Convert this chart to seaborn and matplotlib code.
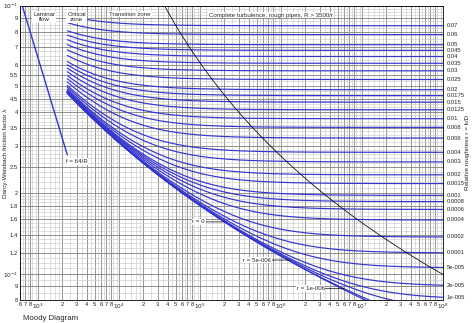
import numpy as np
import pandas as pd
import matplotlib
matplotlib.use("Agg")
import matplotlib.pyplot as plt
import matplotlib.transforms as mtransforms
import seaborn as sns

# Relative roughness values r = k/D of the plotted pipe curves
roughness = [0.07, 0.06, 0.05, 0.045, 0.04, 0.035, 0.03, 0.025, 0.02, 0.0175,
             0.015, 0.0125, 0.01, 0.008, 0.006, 0.004, 0.003, 0.002, 0.0015,
             0.001, 0.0008, 0.0006, 0.0004, 0.0002, 0.0001, 5e-5, 2e-5, 1e-5,
             5e-6, 1e-6, 0.0]
roughness_labels = ["0.07", "0.06", "0.05", "0.045", "0.04", "0.035", "0.03",
                    "0.025", "0.02", "0.0175", "0.015", "0.0125", "0.01",
                    "0.008", "0.006", "0.004", "0.003", "0.002", "0.0015",
                    "0.001", "0.0008", "0.0006", "0.0004", "0.0002", "0.0001",
                    "5e-005", "2e-005", "1e-005"]

re_critical = 2300.0       # end of laminar flow / start of turbulent curves
re_max = 1e8
laminar_coeff = 64.0       # f = 64/R
rough_limit = 3500.0       # complete turbulence for R > 3500/r

# Inline curve labels: (roughness, Reynolds number the leader points to, text)
inline_labels = [(0.0, 2.0e5, "r = 0"),
                 (5e-6, 1.3e6, "r = 5e-006"),
                 (1e-6, 6.0e6, "r = 1e-006")]

x_ticks = [6e2, 7e2, 8e2, 1e3, 2e3, 3e3, 4e3, 5e3, 6e3, 7e3, 8e3, 1e4,
           2e4, 3e4, 4e4, 5e4, 6e4, 7e4, 8e4, 1e5, 2e5, 3e5, 4e5, 5e5, 6e5,
           7e5, 8e5, 1e6, 2e6, 3e6, 4e6, 5e6, 6e6, 7e6, 8e6, 1e7, 2e7, 3e7,
           4e7, 5e7, 6e7, 7e7, 8e7, 1e8]
y_ticks = [0.008, 0.009, 0.01, 0.012, 0.014, 0.016, 0.018, 0.02, 0.025,
           0.03, 0.035, 0.04, 0.045, 0.05, 0.055, 0.06, 0.07, 0.08, 0.09, 0.1]
y_tick_labels = ["8", "9", "$10^{-2}$", "1.2", "1.4", "1.6", "1.8", "2",
                 "2.5", "3", "3.5", "4", "4.5", "5", "5.5", "6", "7", "8",
                 "9", "$10^{-1}$"]


def colebrook(re, r, n_iter=60):
    """Darcy friction factor from the Colebrook-White equation."""
    re = np.asarray(re, dtype=float)
    f = np.full_like(re, 0.02)
    for _ in range(n_iter):
        f = (-2.0 * np.log10(r / 3.7 + 2.51 / (re * np.sqrt(f)))) ** -2
    return f


def x_label(v):
    e = int(np.floor(np.log10(v) + 1e-9))
    m = v / 10 ** e
    if abs(m - 1) < 1e-6:
        return "$10^{%d}$" % e
    return "%d" % round(m)


sns.set_style("white")
plt.rcParams["font.family"] = ["Liberation Sans", "DejaVu Sans"]
plt.rcParams["mathtext.fontset"] = "dejavusans"

blue = "#3434d0"

fig = plt.figure(figsize=(4.74, 3.23), dpi=100)
ax = fig.add_axes([20 / 474, 1 - 300 / 323, 423 / 474, 294.3 / 323])
ax.set_xscale("log")
ax.set_yscale("log")
ax.set_xlim(600, re_max)
ax.set_ylim(0.008, 0.1)

# Grid: light minor lines and darker lines at the labelled values
minor_x = []
for e in range(2, 8):
    for m in [1.2, 1.4, 1.6, 1.8, 2.5, 3.5, 4.5, 5.5, 6.5, 7.5, 8.5, 9.5]:
        minor_x.append(m * 10 ** e)
for v in minor_x:
    ax.axvline(v, color="#c4c4c4", lw=0.4, zorder=0)
for v in x_ticks:
    ax.axvline(v, color="#7a7a7a", lw=0.55, zorder=0)
minor_y = list(np.arange(0.0085, 0.02, 0.0005)) + \
    list(np.arange(0.021, 0.05, 0.001)) + list(np.arange(0.0525, 0.1, 0.0025))
for v in minor_y:
    ax.axhline(v, color="#c4c4c4", lw=0.4, zorder=0)
for v in y_ticks:
    ax.axhline(v, color="#7a7a7a", lw=0.55, zorder=0)

# Turbulent curves for each roughness
re_grid = np.geomspace(re_critical, re_max, 220)
frames = []
for r in roughness:
    frames.append(pd.DataFrame({"Re": re_grid, "f": colebrook(re_grid, r),
                                "r": r}))
curves = pd.concat(frames, ignore_index=True)
sns.lineplot(data=curves, x="Re", y="f", units="r", estimator=None,
             color=blue, lw=0.85, sort=False, ax=ax, zorder=3, legend=False)

# Laminar line
re_lam = np.array([400.0, re_critical])
laminar = pd.DataFrame({"Re": re_lam, "f": laminar_coeff / re_lam})
sns.lineplot(data=laminar, x="Re", y="f", color=blue, lw=1.0, ax=ax,
             zorder=3, estimator=None)

# Boundary of complete turbulence, R = 3500/r
r_bound = np.array([0.12, 0.1] + roughness[:27])
re_bound = rough_limit / r_bound
boundary = pd.DataFrame({"Re": re_bound,
                         "f": [colebrook([a], b)[0] for a, b in
                               zip(re_bound, r_bound)]})
sns.lineplot(data=boundary, x="Re", y="f", color="black", lw=0.55, ax=ax,
             zorder=4, estimator=None, sort=False)

ax.set_xlim(600, re_max)
ax.set_ylim(0.008, 0.1)
ax.set_xlabel("")
ax.set_ylabel("")

# Ticks
ax.set_xticks(x_ticks)
ax.set_xticklabels([x_label(v) for v in x_ticks])
ax.set_xticks([], minor=True)
ax.set_yticks(y_ticks)
ax.set_yticklabels(y_tick_labels)
ax.set_yticks([], minor=True)
ax.tick_params(axis="both", which="major", labelsize=4.2, length=0, pad=1.5)
for s in ax.spines.values():
    s.set_color("black")
    s.set_linewidth(0.6)

# Roughness labels at the right edge
right = mtransforms.blended_transform_factory(ax.transAxes, ax.transData)
for r, lab in zip(roughness, roughness_labels):
    fr = colebrook([re_max], r)[0]
    ax.text(1.008, fr, lab, transform=right, fontsize=4.2, va="center",
            ha="left", clip_on=False)

box = dict(facecolor="white", edgecolor="none", pad=0.6)
ax.text(1.19e3, 0.0907, "Laminar\nflow", fontsize=4.4, ha="center",
        va="center", bbox=box, zorder=6, linespacing=1.0)
ax.text(3.0e3, 0.0907, "Critical\nzone", fontsize=4.4, ha="center",
        va="center", bbox=box, zorder=6, linespacing=1.0)
ax.text(1.37e4, 0.0931, "Transition zone", fontsize=4.4, ha="center",
        va="center", bbox=box, zorder=6)
ax.text(7.6e5, 0.0923, "Complete turbulence, rough pipes, R > 3500/r",
        fontsize=4.4, ha="center", va="center", bbox=box, zorder=6)
ax.text(3.0e3, 0.0262, "f = 64/R", fontsize=4.4, ha="center", va="center",
        bbox=box, zorder=6)

for r, re_at, txt in inline_labels:
    f_at = colebrook([re_at], r)[0]
    ax.annotate(txt, xy=(re_at, f_at), xytext=(-14, 0),
                textcoords="offset points", fontsize=4.4, ha="right",
                va="center", bbox=box, zorder=6,
                arrowprops=dict(arrowstyle="-", color="black", lw=0.5,
                                shrinkA=0, shrinkB=0))

fig.text(6 / 474, 1 - 153 / 323, "Darcy-Weisbach friction factor λ",
         rotation=90, fontsize=4.6, ha="center", va="center")
fig.text(468 / 474, 1 - 152 / 323, "Relative roughness r = k/D",
         rotation=90, fontsize=4.6, ha="center", va="center")
fig.text(23 / 474, 1 - 318 / 323, "Moody Diagram", fontsize=5.6,
         ha="left", va="center")

fig.savefig("out.png", dpi=100)
